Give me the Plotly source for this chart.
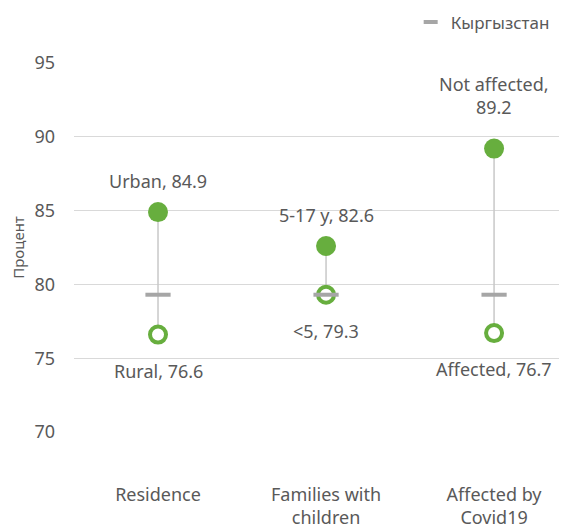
import plotly.graph_objects as go

# Datos
categorias = ["Residence", "Families with<br>children", "Affected by<br>Covid19"]
valor_alto = [84.9, 82.6, 89.2]
valor_bajo = [76.6, 79.3, 76.7]
etiqueta_alto = ["Urban, 84.9", "5-17 y, 82.6", "Not affected,<br>89.2"]
etiqueta_bajo = ["Rural, 76.6", "<5, 79.3", "Affected, 76.7"]
nacional = [79.3, 79.3, 79.3]

verde = "#67AE3E"
gris_txt = "#595959"
xs = list(range(len(categorias)))

# líneas verticales entre bajo y alto
lx, ly = [], []
for i in xs:
    lx += [i, i, None]
    ly += [valor_bajo[i], valor_alto[i], None]

fig = go.Figure()
fig.add_trace(go.Scatter(x=lx, y=ly, mode="lines", line=dict(color="#c8c8c8", width=1.5),
                         showlegend=False, hoverinfo="skip"))
fig.add_trace(go.Scatter(x=xs, y=valor_alto, mode="markers", showlegend=False,
                         marker=dict(size=20, color=verde)))
fig.add_trace(go.Scatter(x=xs, y=valor_bajo, mode="markers", showlegend=False,
                         marker=dict(size=16, color="white", line=dict(color=verde, width=4))))
fig.add_trace(go.Scatter(x=xs, y=nacional, mode="markers", name="Кыргызстан", showlegend=False,
                         marker=dict(symbol="line-ew", size=18, line=dict(color="#a6a6a6", width=4))))
# entrada de leyenda (marca más corta)
fig.add_trace(go.Scatter(x=[None], y=[None], mode="markers", name="Кыргызстан",
                         marker=dict(symbol="line-ew", size=10, line=dict(color="#a6a6a6", width=4))))

# etiquetas
for i in xs:
    sh = 53 if "<br>" in etiqueta_alto[i] else 31
    fig.add_annotation(x=i, y=valor_alto[i], text=etiqueta_alto[i], showarrow=False,
                       yshift=sh, font=dict(size=18, color=gris_txt))
    fig.add_annotation(x=i, y=valor_bajo[i], text=etiqueta_bajo[i], showarrow=False,
                       yshift=-36, font=dict(size=18, color=gris_txt))

# el body del html tiene 8px de margen
fig.update_layout(
    width=559, height=519,
    margin=dict(l=66, r=0, t=55, b=95, autoexpand=False),
    plot_bgcolor="white", paper_bgcolor="white",
    font=dict(family="Noto Sans", size=18, color=gris_txt),
    legend=dict(orientation="h", x=0.975, xanchor="right", y=1.11, yanchor="middle",
                font=dict(size=17, color=gris_txt), itemwidth=30),
    xaxis=dict(range=[-0.5, 2.434], tickvals=xs, ticktext=categorias, showgrid=False,
               zeroline=False, showline=False, ticks="", ticklabelstandoff=50,
               automargin=False, tickfont=dict(size=18, color=gris_txt)),
    yaxis=dict(range=[70, 95], dtick=5, showgrid=True, gridcolor="#d9d9d9", gridwidth=1,
               zeroline=False, showline=False, ticks="", ticklabelstandoff=18,
               automargin=False, tickfont=dict(size=18, color=gris_txt),
               title=dict(text="Процент", font=dict(size=15, color=gris_txt), standoff=9)),
)

fig.write_html("out.html")
